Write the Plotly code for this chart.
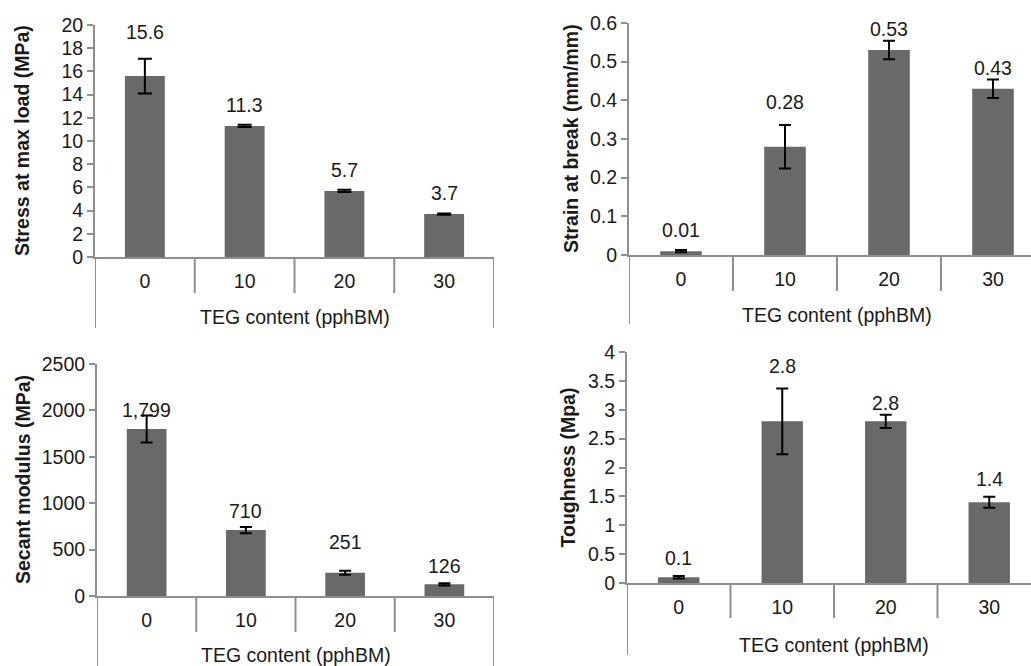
import plotly.graph_objects as go

# TEG content levels (pphBM)
teg_levels = ["0", "10", "20", "30"]

# Tensile properties: mean values and standard deviations
stress_max_load = [15.6, 11.3, 5.7, 3.7]
stress_err = [1.5, 0.1, 0.1, 0.05]

strain_at_break = [0.01, 0.28, 0.53, 0.43]
strain_err = [0.003, 0.056, 0.024, 0.024]

secant_modulus = [1799, 710, 251, 126]
secant_err = [145, 33, 22, 12]

toughness = [0.1, 2.8, 2.8, 1.4]
toughness_err = [0.02, 0.57, 0.115, 0.095]

FIG_W, FIG_H = 1031, 666
FONT = "Liberation Sans, Arial, sans-serif"
FS = 19.5
TEXT = "#1a1a1a"
AXIS = "#8f8f8f"
BAR = "#696969"


def paper_x(px):
    """Pixel column -> paper x."""
    return px / FIG_W


def paper_y(py):
    """Pixel row (from top) -> paper y."""
    return 1 - py / FIG_H


panels = [
    dict(values=stress_max_load, err=stress_err, fmt="{:.1f}",
         ytitle="Stress at max load (MPa)", yrange=[0, 20], dtick=2,
         left=95, right=494, cat_w=99.75, top=25, bottom=257,
         div_end=293, edge_end=328, ytitle_x=22, xtitle_shift=-60,
         label_shift=[44, 21, 21, 21], err_w=7),
    dict(values=strain_at_break, err=strain_err, fmt="{:.2f}",
         ytitle="Strain at break (mm/mm)", yrange=[0, 0.6], dtick=0.1,
         left=629, right=1031, cat_w=104, top=23, bottom=255,
         div_end=291, edge_end=324, ytitle_x=571, xtitle_shift=-60,
         label_shift=[21, 45, 21, 21], err_w=6),
    dict(values=secant_modulus, err=secant_err, fmt="{:,.0f}",
         ytitle="Secant modulus (MPa)", yrange=[0, 2500], dtick=500,
         left=97, right=494, cat_w=99.25, top=364, bottom=596,
         div_end=632, edge_end=666, ytitle_x=23, xtitle_shift=-59,
         label_shift=[19, 19, 31, 18], err_w=6),
    dict(values=toughness, err=toughness_err, fmt="{:.1f}",
         ytitle="Toughness (Mpa)", yrange=[0, 4], dtick=0.5,
         left=627, right=1031, cat_w=103.5, top=352, bottom=583,
         div_end=618, edge_end=655, ytitle_x=567, xtitle_shift=-62,
         label_shift=[19, 55, 18, 23], err_w=6),
]

fig = go.Figure()
layout = dict(
    width=FIG_W, height=FIG_H,
    margin=dict(l=0, r=0, t=0, b=0, autoexpand=False),
    paper_bgcolor="white", plot_bgcolor="white",
    showlegend=False,
    font=dict(family=FONT, size=FS, color=TEXT),
)
shapes = []
annotations = []

for i, p in enumerate(panels, start=1):
    xa = "x" if i == 1 else f"x{i}"
    ya = "y" if i == 1 else f"y{i}"
    xkey = "xaxis" if i == 1 else f"xaxis{i}"
    ykey = "yaxis" if i == 1 else f"yaxis{i}"
    xmax = -0.5 + (p["right"] - p["left"]) / p["cat_w"]

    fig.add_trace(go.Bar(
        x=teg_levels, y=p["values"], xaxis=xa, yaxis=ya,
        width=0.4, marker=dict(color=BAR, line=dict(width=0)),
        error_y=dict(type="data", array=p["err"], visible=True,
                     color="black", thickness=2, width=p["err_w"]),
    ))

    layout[xkey] = dict(
        domain=[paper_x(p["left"]), paper_x(p["right"])], anchor=ya,
        type="category", range=[-0.5, xmax], automargin=False,
        showline=True, linecolor=AXIS, linewidth=2,
        ticks="", showgrid=False, zeroline=False,
        tickfont=dict(size=FS, color=TEXT), ticklabelstandoff=6,
    )
    layout[ykey] = dict(
        domain=[paper_y(p["bottom"]), paper_y(p["top"])], anchor=xa,
        range=p["yrange"], dtick=p["dtick"], tick0=0, automargin=False,
        showline=True, linecolor=AXIS, linewidth=2,
        ticks="outside", ticklen=6, tickwidth=1.5, tickcolor=AXIS,
        showgrid=False, zeroline=False,
        tickfont=dict(size=FS, color=TEXT),
    )

    # Category dividers below the axis line
    for b in [0.5, 1.5, 2.5]:
        shapes.append(dict(type="line", xref=xa, yref="paper",
                           x0=b, x1=b, y0=paper_y(p["bottom"]),
                           y1=paper_y(p["div_end"]),
                           line=dict(color=AXIS, width=2)))
    # Outer borders of the category block
    for b in [-0.5, 3.5]:
        shapes.append(dict(type="line", xref=xa, yref="paper",
                           x0=b, x1=b, y0=paper_y(p["bottom"]),
                           y1=paper_y(p["edge_end"]),
                           line=dict(color=AXIS, width=2)))

    # Value labels above each bar
    for k, (v, s) in enumerate(zip(p["values"], p["label_shift"])):
        annotations.append(dict(
            x=k, y=v, xref=xa, yref=ya, text=p["fmt"].format(v),
            showarrow=False, yshift=s, font=dict(size=FS, color=TEXT),
        ))

    # Axis titles
    annotations.append(dict(
        x=1.5, y=0, xref=xa, yref=ya, yshift=p["xtitle_shift"],
        text="TEG content (pphBM)", showarrow=False,
        font=dict(size=FS, color=TEXT),
    ))
    annotations.append(dict(
        x=0, y=0.5, xref=f"{xa} domain", yref=f"{ya} domain",
        xanchor="center", yanchor="middle",
        xshift=p["ytitle_x"] - p["left"], textangle=-90,
        text=p["ytitle"], showarrow=False,
        font=dict(size=FS, color=TEXT, weight="bold"),
    ))

layout["shapes"] = shapes
layout["annotations"] = annotations
fig.update_layout(**layout)

fig.write_html("out.html")
